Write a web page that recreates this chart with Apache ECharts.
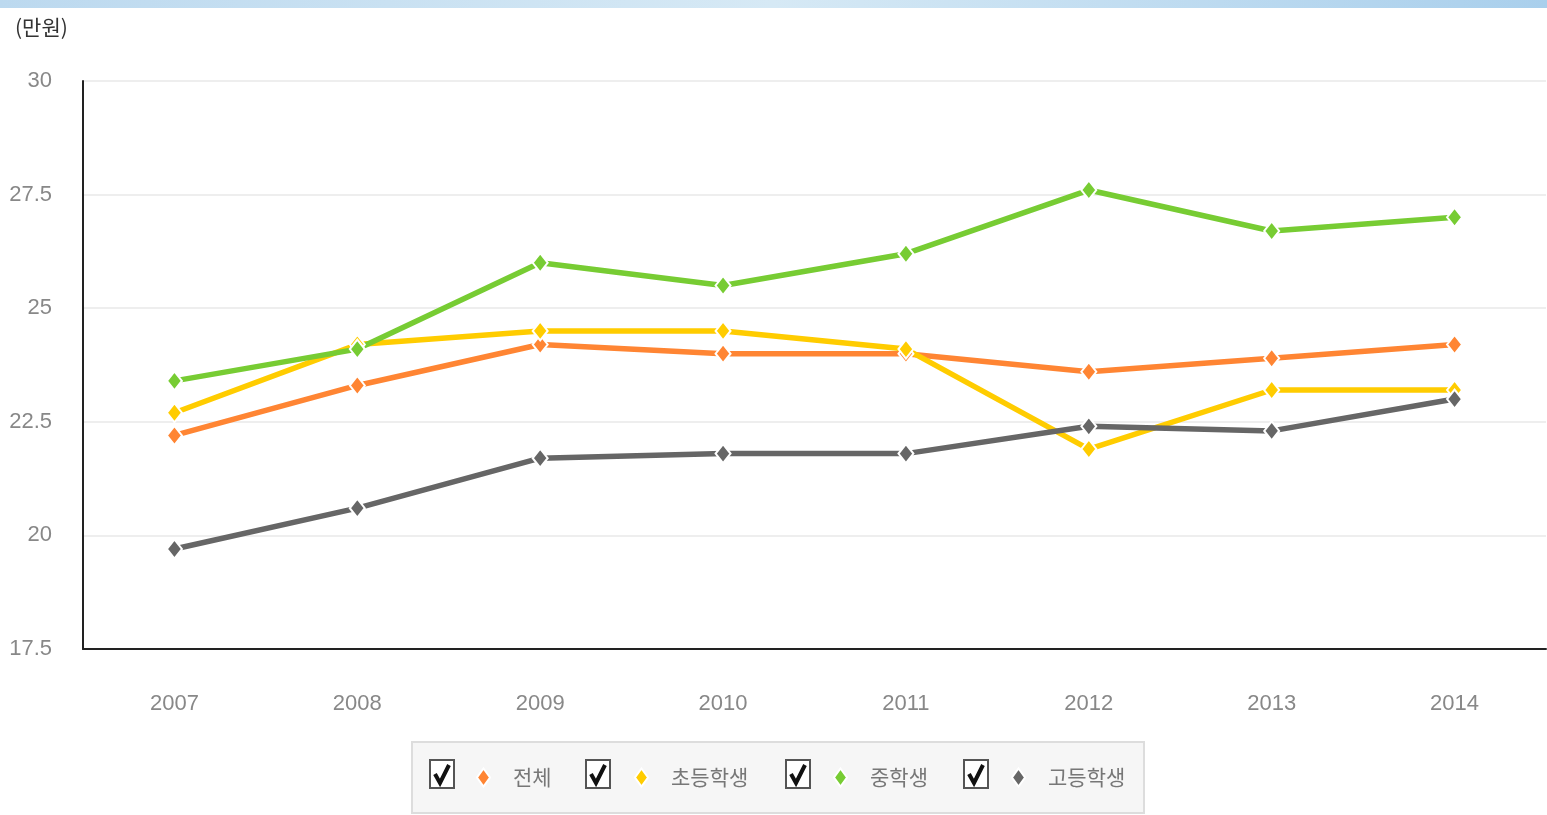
<!DOCTYPE html>
<html>
<head>
<meta charset="utf-8">
<script src="https://cdn.jsdelivr.net/npm/echarts@6/dist/echarts.min.js"></script>
<style>
  html, body { margin: 0; padding: 0; background: #fff; }
  #chart { width: 1547px; height: 815px; }
</style>
</head>
<body>
<div id="chart"></div>
<script type="text/javascript">
// 연도
var years = ['2007', '2008', '2009', '2010', '2011', '2012', '2013', '2014'];
// 1인당 월평균 (만원)
var total      = [22.2, 23.3, 24.2, 24.0, 24.0, 23.6, 23.9, 24.2];
var elementary = [22.7, 24.2, 24.5, 24.5, 24.1, 21.9, 23.2, 23.2];
var middle     = [23.4, 24.1, 26.0, 25.5, 26.2, 27.6, 26.7, 27.0];
var high       = [19.7, 20.6, 21.7, 21.8, 21.8, 22.4, 22.3, 23.0];
var yTicks = [17.5, 20, 22.5, 25, 27.5, 30];

var names = ['전체', '초등학생', '중학생', '고등학생'];
var colors = ['#ff8533', '#ffcc00', '#77cc33', '#666666'];
var seriesData = [total, elementary, middle, high];

var labelFont = '"Liberation Sans Narrow", "Liberation Sans", Arial, sans-serif';
var krFont = '"Noto Sans CJK KR", sans-serif';

var myChart = echarts.init(document.getElementById('chart'));

// 범례: 항목마다 따로 (체크박스 위치 맞추기)
var legendLeft = [471, 629, 828, 1006];
var checkLeft = [429, 585, 785, 963];

var legends = [];
var graphics = [
    // 상단 배너
    {
        type: 'rect', left: 0, top: 0,
        shape: { width: 1547, height: 8 },
        style: {
            fill: new echarts.graphic.LinearGradient(0, 0, 1, 0, [
                { offset: 0, color: '#bcd9ef' },
                { offset: 0.5, color: '#d6e9f5' },
                { offset: 1, color: '#a9cfec' }
            ])
        },
        z: 0
    },
    // 범례 박스
    {
        type: 'rect', left: 411, top: 741,
        shape: { width: 732, height: 71 },
        style: { fill: '#f6f6f6', stroke: '#dddddd', lineWidth: 2 },
        z: 0
    }
];

for (var i = 0; i < names.length; i++) {
    legends.push({
        data: [names[i]],
        left: legendLeft[i],
        top: 762,
        icon: 'diamond',
        itemWidth: 13,
        itemHeight: 18,
        itemGap: 0,
        selectedMode: false,
        textStyle: { color: '#777', fontSize: 21, fontFamily: krFont, padding: [0, 0, 9, 18] }
    });
    // 체크박스
    graphics.push({
        type: 'group', left: checkLeft[i], top: 759,
        children: [
            {
                type: 'rect',
                shape: { x: 0, y: 0, width: 24, height: 28 },
                style: { fill: '#fff', stroke: '#555', lineWidth: 2 }
            },
            {
                type: 'polyline',
                shape: { points: [[5, 14], [10, 23], [19, 5]] },
                style: { stroke: '#111', lineWidth: 4, fill: null, lineJoin: 'miter' }
            }
        ],
        z: 10
    });
}

var series = [];
for (var k = 0; k < names.length; k++) {
    series.push({
        name: names[k],
        type: 'line',
        data: seriesData[k],
        symbol: 'diamond',
        symbolSize: [15, 19],
        showAllSymbol: true,
        lineStyle: { color: colors[k], width: 5.5 },
        itemStyle: { color: colors[k], borderColor: '#fff', borderWidth: 2 },
        emphasis: { disabled: true },
        animation: false
    });
}

var options = {
    backgroundColor: '#fff',
    animation: false,
    color: colors,
    title: {
        text: '(만원)',
        left: 10,
        top: 12,
        textStyle: { color: '#333', fontSize: 21, fontWeight: 'normal', fontFamily: krFont }
    },
    legend: legends,
    graphic: graphics,
    grid: { left: 83, right: 1, top: 81, bottom: 166 },
    xAxis: {
        type: 'category',
        boundaryGap: true,
        data: years,
        axisLine: { show: true, lineStyle: { color: '#222', width: 2 } },
        axisTick: { show: false },
        axisLabel: { color: '#888', fontSize: 22, fontFamily: labelFont, margin: 44 }
    },
    yAxis: {
        type: 'value',
        min: yTicks[0],
        max: yTicks[yTicks.length - 1],
        interval: 2.5,
        axisLine: { show: true, lineStyle: { color: '#222', width: 2 } },
        axisTick: { show: false },
        splitLine: { lineStyle: { color: '#eeeeee', width: 2 } },
        axisLabel: { color: '#888', fontSize: 22, fontFamily: labelFont, margin: 31 }
    },
    series: series
};
myChart.setOption(options);
</script>
</body>
</html>
